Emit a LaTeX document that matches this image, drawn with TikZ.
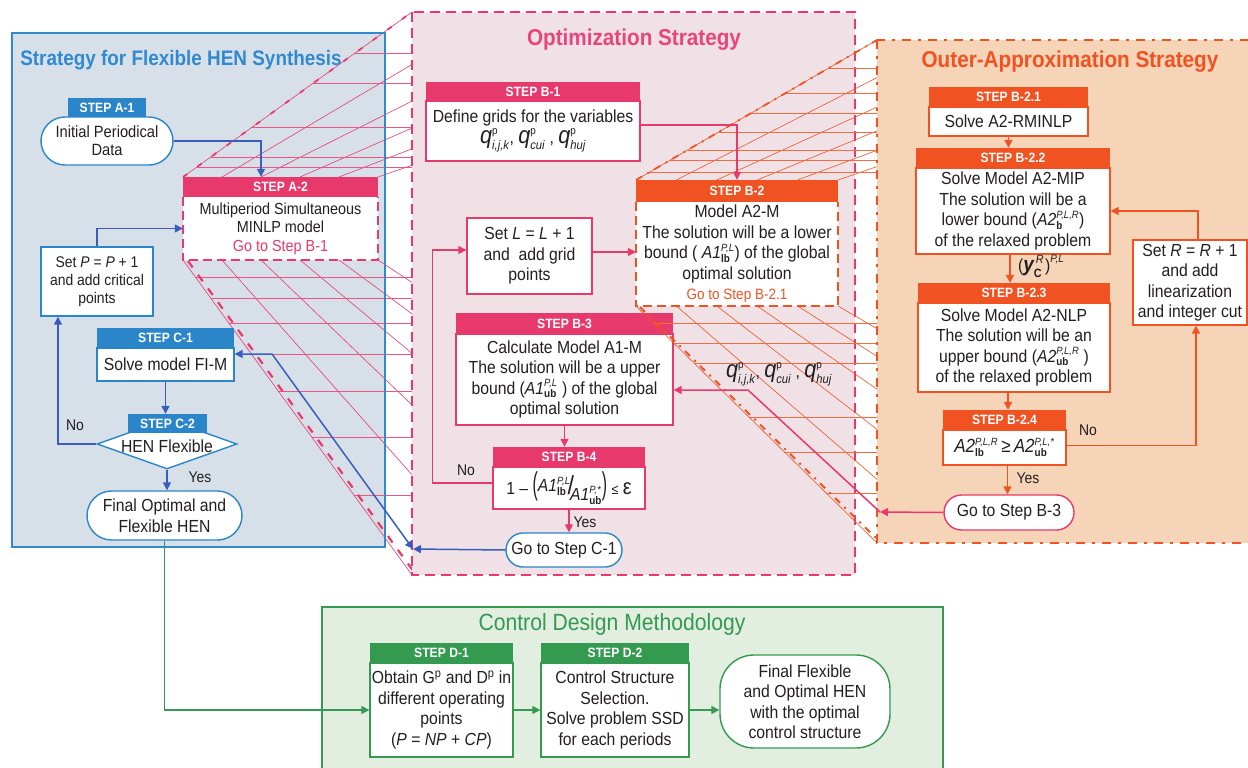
\documentclass[tikz,border=0pt]{standalone}
\usepackage{fontspec}
\setmainfont{Liberation Sans}[FakeStretch=0.9]
\usepackage{graphicx}
\usetikzlibrary{arrows.meta,shapes.geometric}
\definecolor{bhd}{HTML}{2A86C8}
\definecolor{barr}{HTML}{3A5DBB}
\definecolor{bfill}{HTML}{D7E0E8}
\definecolor{bbord}{HTML}{2F8AD0}
\definecolor{pk}{HTML}{E8396C}
\definecolor{pkt}{HTML}{E8457A}
\definecolor{pfill}{HTML}{EFE1E6}
\definecolor{og}{HTML}{F05222}
\definecolor{ofill}{HTML}{F6D4B8}
\definecolor{gr}{HTML}{349A4F}
\definecolor{gfill}{HTML}{E1EEE0}
\definecolor{txt}{HTML}{231F20}
\newcommand\bsz{\fontsize{17.5}{20.5}\selectfont}
\newcommand\ssz{\fontsize{16}{18.5}\selectfont}
\newcommand\hsz{\fontsize{13.5}{14}\selectfont\bfseries}
\newcommand\mysupsub[3]{#1$^{\mbox{\fontsize{10.5}{10.5}\selectfont#2}}_{\mbox{\fontsize{11}{11}\selectfont#3}}$}
\newcommand\qv[1]{{\fontsize{24}{26}\selectfont\itshape q$^{\mbox{\fontsize{11}{11}\selectfont\upshape p}}_{\mbox{\fontsize{12.5}{12.5}\selectfont #1}}$}}
\tikzset{
 hd/.style={fill=#1, draw=none, text=white, font=\hsz, inner sep=0pt},
 bx/.style={fill=white, draw=#1, line width=1.4pt, inner sep=0pt, align=center, text=txt, font=\bsz},
 ar/.style={draw=#1, line width=1.5pt, -{Triangle[length=8pt,width=8pt]}},
 lab/.style={text=txt, font=\fontsize{15.5}{17}\selectfont, inner sep=0pt},
 ph/.style={draw=pk, line width=0.6pt},
 phh/.style={draw=pk!85, line width=0.9pt},
 oh/.style={draw=og, line width=0.6pt},
 ohh/.style={draw=og!85, line width=0.9pt},
}
\begin{document}
\begin{tikzpicture}[x=1pt,y=-1pt]
\useasboundingbox (0,0) rectangle (1248,768);
% ---------- left panel
\fill[bfill] (12,33) rectangle (385,547);
\begin{scope}
\clip (0,0) rectangle (412,768);
\foreach \a/\b in {222/500.6, 261/589.2, 300/677.8, 339/766.4, 378/855} {
  \draw[ph] (\a,177) -- (\b,12);
  \draw[ph] (\a,260) -- (\b,575);
}
\foreach \y in {53,83,127,157,167} \draw[phh] ({183+(177-\y)/165*229},\y) -- (412,\y);
\foreach \y in {277,298,323,354,391,437,495} \draw[phh] ({183+(\y-260)/315*229},\y) -- (412,\y);
\draw[ph] (183,177) -- (412,12);
\draw[pk, line width=1.8pt, dash pattern=on 5pt off 13pt] (183,177) -- (412,12);
\draw[ph] (183,260) -- (412,575);
\draw[pk, line width=2.2pt, dash pattern=on 8pt off 9pt] (188,261) -- (414,572);
\end{scope}
\draw[bbord, line width=2.5pt] (12,33) rectangle (385,547);
\node[font=\fontsize{21}{24}\selectfont\bfseries, text=bbord] (tA) at (181,60) {Strategy for Flexible HEN Synthesis};
% ---------- optimization panel
\fill[pfill] (412,12) rectangle (855,575);
\draw[pk, line width=2.5pt, dash pattern=on 10pt off 6pt] (412,12) rectangle (855,575);
\node[font=\fontsize{23}{26}\selectfont\bfseries, text=pkt] (tB) at (634,40) {Optimization Strategy};
% ---------- green panel
\fill[gfill] (322,607) rectangle (943,775);
\draw[gr, line width=2pt] (322,607) rectangle (943,775);
\node[font=\fontsize{23.5}{26}\selectfont, text=gr] (tD) at (612,624) {Control Design Methodology};

% ---------- left nodes
\node[bx=bhd, minimum width=132pt, minimum height=48pt, rounded corners=24pt, font=\fontsize{16.3}{18}\selectfont] (sA1) at (107,141) {Initial Periodical\\Data};
\node[hd=bhd, minimum width=78pt, minimum height=19pt] (hA1) at (107,107.5) {STEP A-1};
\node[fill=white, minimum width=195pt, minimum height=63pt, inner sep=0pt, align=center, text=txt, font=\ssz] (bA2) at (280.5,228.5) {Multiperiod Simultaneous\\MINLP model\\{\color{pk}Go to Step B-1}};
\draw[pk, line width=2pt, dash pattern=on 9pt off 5pt] (bA2.north west) -- (bA2.south west) -- (bA2.south east) -- (bA2.north east);
\node[hd=pk, minimum width=195pt, minimum height=20pt] (hA2) at (280.5,187) {STEP A-2};
\node[bx=bhd, minimum width=112pt, minimum height=69pt, font=\fontsize{15.5}{18}\selectfont] (setP) at (97,281.5) {Set \textit{P} = \textit{P} + 1\\and add critical\\points};
\node[bx=bhd, minimum width=137pt, minimum height=33pt] (bC1) at (165.5,364.5) {Solve model FI-M};
\node[hd=bhd, minimum width=137pt, minimum height=20pt] (hC1) at (165.5,338) {STEP C-1};
\node[diamond, aspect=2.8, minimum width=140pt, minimum height=50pt, fill=white, draw=bhd, line width=1.4pt, inner sep=0pt] (dC2) at (167,444) {};
\node[hd=bhd, minimum width=79pt, minimum height=19pt] (hC2) at (167.5,423.5) {STEP C-2};
\node[text=txt, font=\bsz, inner sep=0pt] (tC2) at (167,446) {HEN Flexible};
\node[bx=bhd, minimum width=155pt, minimum height=49pt, rounded corners=24.5pt] (fA) at (164.5,515.5) {Final Optimal and\\Flexible HEN};

% ---------- optimization nodes
\node[bx=pk, minimum width=214pt, minimum height=60pt] (bB1) at (533,131) {Define grids for the variables\\[0pt]\qv{\itshape i,j,k}, \qv{cui} , \qv{hu\textit{j}}};
\node[hd=pk, minimum width=214pt, minimum height=19pt] (hB1) at (533,91.5) {STEP B-1};
\node[bx=pk, minimum width=125pt, minimum height=76pt] (setL) at (529.5,256) {Set \textit{L} = \textit{L} + 1\\and~ add grid\\points};
\node[bx=pk, minimum width=217pt, minimum height=91pt] (bB3) at (564.5,379.5) {Calculate Model A1-M\\The solution will be a upper\\bound (\mysupsub{\textit{A1}}{\textit{P,L}}{\textbf{ub}} ) of the global\\optimal solution};
\node[hd=pk, minimum width=217pt, minimum height=21pt] (hB3) at (564.5,323.5) {STEP B-3};
\node[bx=pk, minimum width=152pt, minimum height=42pt] (bB4) at (569,488) {1 -- \scalebox{1}[1.8]{(}\raisebox{3pt}{\mysupsub{\textit{A1}}{\textit{P,L}}{\textbf{lb}}}\hspace{-3pt}{\fontsize{26}{26}\selectfont /}\hspace{-4pt}\raisebox{-6pt}{\mysupsub{\textit{A1}}{\textit{P,*}}{\textbf{ub}}}\scalebox{1}[1.8]{)}\ {\fontsize{14}{14}\selectfont ≤}\ {\fontsize{22}{22}\selectfont ε}};
\node[hd=pk, minimum width=152pt, minimum height=20pt] (hB4) at (569,457) {STEP B-4};
\node[bx=bhd, minimum width=116pt, minimum height=34pt, rounded corners=17pt] (gC1) at (564,550) {Go to Step C-1};

% ---------- orange hatching
\begin{scope}
\clip (600,0) rectangle (877,768);
\foreach \a/\b in {676.4/950.8, 716.8/1024.6, 757.2/1098.4, 797.6/1172.2, 838/1246} {
  \draw[oh] (\a,180) -- (\b,40);
  \draw[oh] (\a,306) -- (\b,543);
}
\foreach \y in {68,93,113,132,150,160,172} \draw[ohh] ({636+(180-\y)/140*241},\y) -- (877,\y);
\foreach \y in {323,343,363,417,452,493} \draw[ohh] ({636+(\y-306)/237*241},\y) -- (877,\y);
\draw[oh] (636,180) -- (877,40);
\draw[og, line width=1.8pt, dash pattern=on 7pt off 6pt on 2pt off 6pt] (636,180) -- (877,40);
\draw[oh] (636,306) -- (877,543);
\draw[og, line width=2pt, dash pattern=on 7pt off 6pt on 2pt off 6pt] (640,307) -- (879,541);
\end{scope}

% ---------- orange panel
\fill[ofill] (877,40) rectangle (1262,543);
\draw[og, line width=2.5pt, dash pattern=on 9pt off 7pt on 3pt off 7pt] (877,40) rectangle (1262,543);
\node[font=\fontsize{23}{26}\selectfont\bfseries, text=og] (tC) at (1070,62) {Outer-Approximation Strategy};

\node[fill=white, minimum width=202pt, minimum height=104pt, inner sep=0pt, align=center, text=txt, font=\bsz] (bB2) at (737,254) {Model A2-M\\The solution will be a lower\\bound ( \mysupsub{\textit{A1}}{\textit{P,L}}{\textbf{lb}}) of the global\\optimal solution\\{\color{og}\fontsize{15}{17}\selectfont Go to Step B-2.1}};
\draw[og, line width=2pt, dash pattern=on 9pt off 5pt] (bB2.north west) -- (bB2.south west) -- (bB2.south east) -- (bB2.north east);
\node[hd=og, minimum width=202pt, minimum height=22pt] (hB2) at (737,191) {STEP B-2};

\node[bx=og, minimum width=159pt, minimum height=29pt] (bB21) at (1008.5,121.5) {Solve A2-RMINLP};
\node[hd=og, minimum width=159pt, minimum height=20pt] (hB21) at (1008.5,97) {STEP B-2.1};
\node[bx=og, minimum width=194pt, minimum height=86pt] (bB22) at (1013,211) {Solve Model A2-MIP\\The solution will be a\\lower bound (\mysupsub{\textit{A2}}{\textit{P,L,R}}{\textbf{b}})\\of the relaxed problem};
\node[hd=og, minimum width=194pt, minimum height=20pt] (hB22) at (1013,158) {STEP B-2.2};
\node[bx=og, minimum width=192pt, minimum height=89pt] (bB23) at (1014,347.5) {Solve Model A2-NLP\\The solution will be an\\upper bound (\mysupsub{\textit{A2}}{\textit{P,L,R}}{\textbf{ub}} )\\of the relaxed problem};
\node[hd=og, minimum width=192pt, minimum height=20pt] (hB23) at (1014,293) {STEP B-2.3};
\node[bx=og, minimum width=123pt, minimum height=35pt, font=\fontsize{19}{21}\selectfont] (bB24) at (1004.5,447.5) {\mysupsub{\textit{A2}}{\textit{P,L,R}}{\textbf{lb}}\,≥\,\mysupsub{\textit{A2}}{\textit{P,L,*}}{\textbf{ub}}};
\node[hd=og, minimum width=123pt, minimum height=20pt] (hB24) at (1004.5,420) {STEP B-2.4};
\node[bx=og, minimum width=114pt, minimum height=85pt] (setR) at (1190,282.5) {Set \textit{R} = \textit{R} + 1\\and add\\linearization\\and integer cut};
\node[bx=pk, minimum width=130pt, minimum height=35pt, rounded corners=17.5pt] (gB3) at (1009,512.5) {Go to Step B-3};

% ---------- green nodes
\node[bx=gr, minimum width=143pt, minimum height=94pt] (bD1) at (441.5,710) {Obtain G\textsuperscript{p} and D\textsuperscript{p} in\\different operating\\points\\(\textit{P} = \textit{NP} + \textit{CP})};
\node[hd=gr, minimum width=143pt, minimum height=20pt] (hD1) at (441.5,653) {STEP D-1};
\node[bx=gr, minimum width=148pt, minimum height=94pt] (bD2) at (615,710) {Control Structure\\Selection.\\Solve problem SSD\\for each periods};
\node[hd=gr, minimum width=148pt, minimum height=20pt] (hD2) at (615,653) {STEP D-2};
\node[bx=gr, minimum width=170pt, minimum height=93pt, rounded corners=34pt] (fD) at (805,701.5) {Final Flexible\\and Optimal HEN\\with the optimal\\control structure};

% ---------- connectors: blue
\draw[ar=barr] (sA1.east) -| ([xshift=-19.5pt]hA2.north);
\draw[ar=barr] (setP.north) |- (bA2.west);
\draw[ar=barr] (bC1.south) -- (bC1.south |- hC2.north);
\draw[ar=barr] (dC2.west) -| ([xshift=-39pt]setP.south);
\draw[ar=barr] (dC2.south) -- (dC2.south |- fA.north);
\node[lab] (lNo1) at (75,425) {No};
\node[lab] (lYes1) at (200,477) {Yes};
\coordinate (cEntry) at (413,549);
\coordinate (cBend) at (272,354);
\draw[ar=barr] (gC1.west) -- (cEntry);
\draw[ar=barr, {Triangle[length=8pt,width=8pt]}-{Triangle[length=8pt,width=8pt]}] (cEntry) -- (cBend) -- ([yshift=10.5pt]bC1.east);
% green
\draw[ar=gr] (fA.south) |- (bD1.west);
\draw[ar=gr] (bD1.east) -- (bD1.east -| bD2.west);
\draw[ar=gr] (bD2.east) -- (bD2.east -| fD.west);
% pink
\draw[ar=pk] ([yshift=6pt]bB1.east) -| (hB2.north);
\draw[ar=pk] ([yshift=4pt]setL.east) -- ([yshift=4pt]setL.east -| bB2.west);
\draw[ar=pk] (bB3.south) -- (bB3.south |- hB4.north);
\draw[ar=pk] ([yshift=5pt]bB4.west) -- ++(-60,0) |- ([yshift=6pt]setL.west);
\draw[ar=pk] (bB4.south) -- (bB4.south |- gC1.north);
\node[lab] (lNo2) at (466,470) {No};
\node[lab] (lYes2) at (585,522) {Yes};
% orange
\draw[ar=og] (bB21.south) -- (bB21.south |- hB22.north);
\draw[ar=og] ([xshift=-3pt]bB22.south) -- ([xshift=-3pt]bB22.south |- hB23.north);
\draw[ar=og] ([xshift=-6pt]bB23.south) -- ([xshift=-6pt]bB23.south |- hB24.north);
\draw[ar=og] ([yshift=2pt]bB24.east) -| ([xshift=6pt]setR.south);
\draw[ar=og] ([xshift=8pt]setR.north) |- (bB22.east);
\draw[ar=og] ([xshift=3pt]bB24.south) -- ([xshift=3pt]bB24.south |- gB3.north);
\node[lab] (lNo3) at (1088,430) {No};
\node[lab] (lYes3) at (1028,478) {Yes};
\node[text=txt, font=\bsz, inner sep=0pt, anchor=west] (ylab) at (1018,266) {({\fontsize{21}{21}\selectfont\bfseries\itshape y}\raisebox{-6pt}{\fontsize{12}{12}\selectfont\bfseries C}\hspace{-6pt}\raisebox{8pt}{\fontsize{12}{12}\selectfont\itshape R}\hspace{1.5pt})\raisebox{9pt}{\fontsize{11}{11}\selectfont\itshape P,L}};
% pink q link
\coordinate (qEntry) at (880,512);
\coordinate (qBend) at (748,390);
\draw[ar=pk] (gB3.west) -- (qEntry);
\draw[ar=pk] (qEntry) -- (qBend) -- ([yshift=-10.5pt]bB3.east);
\node[text=txt, font=\bsz, inner sep=0pt] (qlab) at (779,374) {\qv{\itshape i,j,k}, \qv{cui} , \qv{hu\textit{j}}};
\end{tikzpicture}
\end{document}
